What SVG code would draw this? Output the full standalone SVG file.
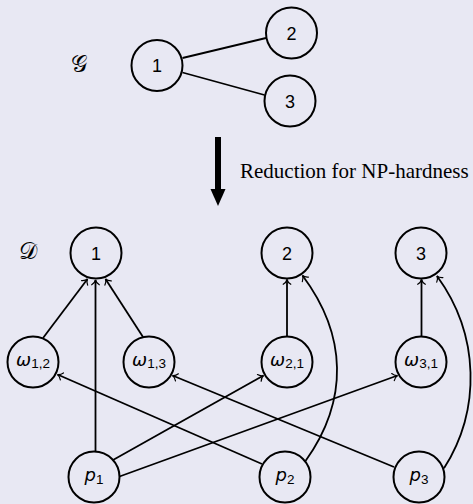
<svg xmlns="http://www.w3.org/2000/svg" width="473" height="504" viewBox="0 0 473 504">
  <style>
    .bg { fill: #e8e8f3; }
    .node circle { fill: none; stroke: #000; stroke-width: 2; }
    .num { font-family: "Liberation Sans", Arial, sans-serif; font-size: 18px; text-anchor: middle; fill: #000; }
    .var { font-family: "DejaVu Sans", sans-serif; font-style: italic; font-size: 18px; text-anchor: middle; fill: #000; }
    .sub { font-family: "Liberation Sans", Arial, sans-serif; font-style: normal; font-size: 13.5px; }
    .cal { font-family: "DejaVu Serif", "Liberation Serif", serif; font-size: 23px; text-anchor: middle; fill: #000; }
    .note { font-family: "Liberation Serif", "Times New Roman", serif; font-size: 21px; fill: #000; }
    .edge { fill: none; stroke: #000; stroke-width: 1.8; }
    .arc { fill: none; stroke: #000; stroke-width: 1.8; marker-end: url(#tip); }
  </style>
  <defs>
    <marker id="tip" markerUnits="userSpaceOnUse" orient="auto" markerWidth="10" markerHeight="10" viewBox="-6 -5 7 10" refX="0" refY="0" overflow="visible">
      <path d="M -4.8 -3.8 C -3.5 -1.7 -1.6 -0.4 0 0 C -1.6 0.4 -3.5 1.7 -4.8 3.8" fill="none" stroke="#000" stroke-width="1.2" stroke-linecap="round"/>
    </marker>
  </defs>

  <rect class="bg" x="0" y="0" width="473" height="504"/>

  <!-- input graph -->
  <text class="cal" x="79" y="72">𝒢</text>
  <g id="connectors-top">
    <line class="edge" x1="182.5" y1="58" x2="266" y2="38"/>
    <line class="edge" x1="182.5" y1="72.5" x2="264.5" y2="95"/>
  </g>
  <g id="g1" class="node"><circle cx="157" cy="65.5" r="25.5"/><text class="num" x="157" y="72">1</text></g>
  <g id="g2" class="node"><circle cx="291.5" cy="33" r="25.5"/><text class="num" x="291.5" y="39.5">2</text></g>
  <g id="g3" class="node"><circle cx="290" cy="101" r="25.5"/><text class="num" x="290" y="107.5">3</text></g>

  <!-- reduction arrow -->
  <g id="reduction">
    <rect x="215" y="137" width="6" height="54" fill="#000"/>
    <polygon points="210.5,189 225.5,189 218,206" fill="#000"/>
    <text class="note" x="240" y="178">Reduction for NP-hardness</text>
  </g>

  <!-- constructed digraph -->
  <text class="cal" x="27.5" y="259">𝒟</text>

  <g id="connectors">
    <path class="arc" d="M 43 338 L 87.5 279"/>
    <path class="arc" d="M 143 337 L 105.5 279"/>
    <path class="arc" d="M 95.5 451.5 L 95.5 280"/>
    <path class="arc" d="M 287 336.5 L 287 279.5"/>
    <path class="arc" d="M 421.5 336.5 L 421.5 279.5"/>
    <path class="arc" d="M 113 460 L 263.5 375.5"/>
    <path class="arc" d="M 119.5 476.5 L 397.5 375.5"/>
    <path class="arc" d="M 262 464 L 57.5 374.5"/>
    <path class="arc" d="M 394 467 L 172.5 375.5"/>
    <path class="arc" d="M 305.5 461 C 349 400 347 335 302.5 275.5"/>
    <path class="arc" d="M 444 468.3 C 481 410 480 335 437 276"/>
  </g>

  <g id="d1" class="node"><circle cx="96" cy="253" r="25.5"/><text class="num" x="96" y="259.5">1</text></g>
  <g id="d2" class="node"><circle cx="287" cy="253" r="25.5"/><text class="num" x="287" y="259.5">2</text></g>
  <g id="d3" class="node"><circle cx="421" cy="253" r="25.5"/><text class="num" x="421" y="259.5">3</text></g>

  <g id="w12" class="node"><circle cx="33" cy="362" r="25.5"/><text class="var" x="33" y="365.5">ω<tspan class="sub" dy="2.2">1,2</tspan></text></g>
  <g id="w13" class="node"><circle cx="149" cy="362" r="25.5"/><text class="var" x="149" y="365.5">ω<tspan class="sub" dy="2.2">1,3</tspan></text></g>
  <g id="w21" class="node"><circle cx="287" cy="362" r="25.5"/><text class="var" x="287" y="365.5">ω<tspan class="sub" dy="2.2">2,1</tspan></text></g>
  <g id="w31" class="node"><circle cx="421" cy="362" r="25.5"/><text class="var" x="421" y="365.5">ω<tspan class="sub" dy="2.2">3,1</tspan></text></g>

  <g id="p1" class="node"><circle cx="94" cy="477" r="25.5"/><text class="var" x="94" y="481">p<tspan class="sub" font-size="14" dy="2.5">1</tspan></text></g>
  <g id="p2" class="node"><circle cx="285" cy="477" r="25.5"/><text class="var" x="285" y="481">p<tspan class="sub" font-size="14" dy="2.5">2</tspan></text></g>
  <g id="p3" class="node"><circle cx="419" cy="477" r="25.5"/><text class="var" x="419" y="481">p<tspan class="sub" font-size="14" dy="2.5">3</tspan></text></g>
</svg>
